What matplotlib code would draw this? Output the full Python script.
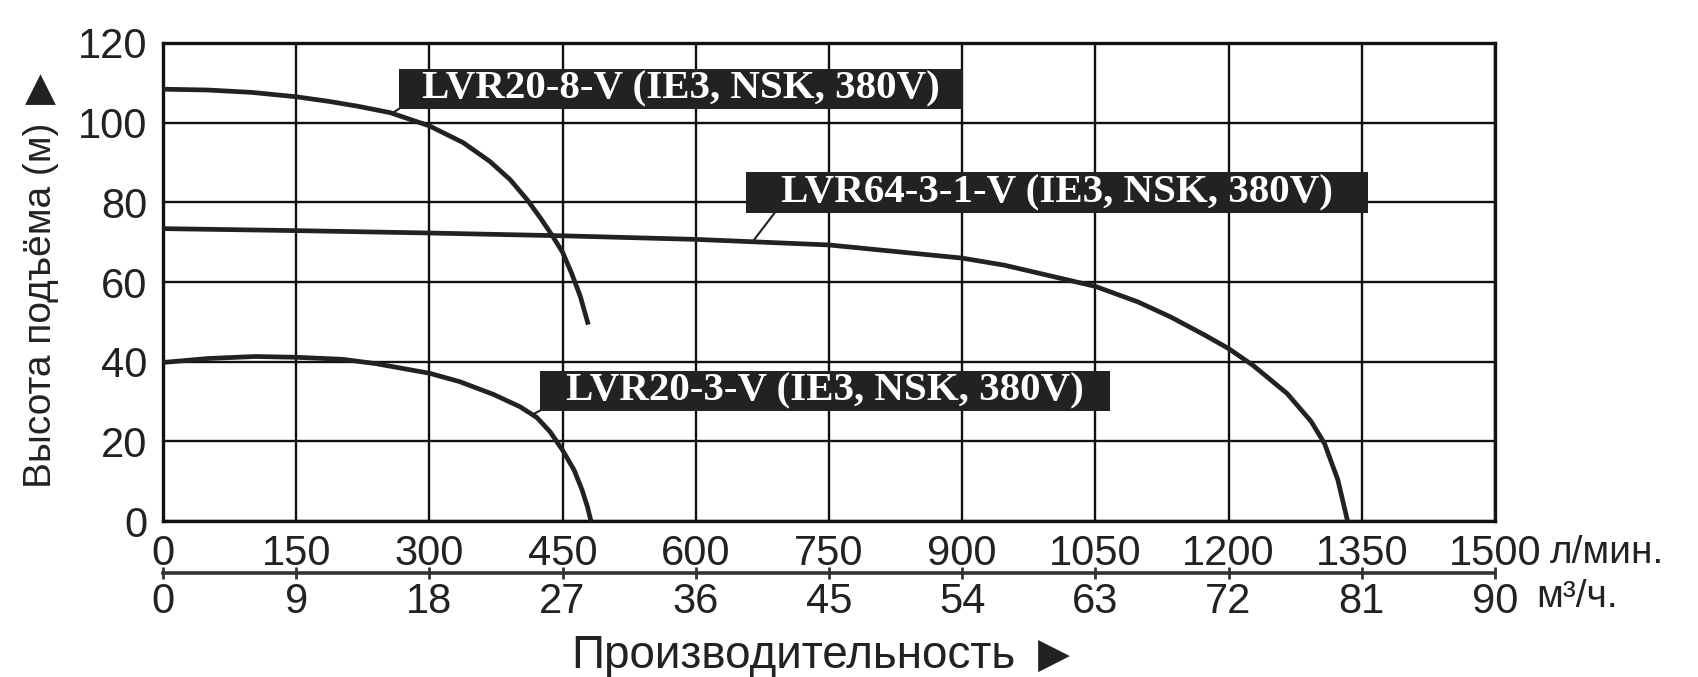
import matplotlib
matplotlib.use("Agg")
import matplotlib.pyplot as plt
from matplotlib.patches import Rectangle
import numpy as np

# pump curves: flow in l/min, head in m
flow_20_8 = [0, 50, 100, 150, 188, 220, 256, 300, 338, 368, 391, 410, 425, 438, 450, 460, 470, 479]
head_20_8 = [108.4, 108.2, 107.6, 106.5, 105.3, 104.1, 102.5, 99.2, 95.0, 90.3, 85.7, 80.7,
             76.1, 71.8, 67.5, 62.3, 56.4, 49.3]

flow_64_3 = [0, 150, 300, 450, 600, 750, 900, 948, 1050, 1098, 1135, 1173, 1200,
             1228, 1266, 1293, 1308, 1323, 1334]
head_64_3 = [73.4, 72.9, 72.3, 71.6, 70.7, 69.3, 66.0, 64.2, 58.9, 55.0, 51.2, 46.7, 43.3,
             39.0, 32.0, 25.0, 19.5, 10.4, 0]

flow_20_3 = [0, 51, 104, 150, 202, 240, 300, 334, 372, 402, 421, 436, 450, 463, 472, 478, 482]
head_20_3 = [39.8, 40.8, 41.3, 41.1, 40.6, 39.5, 37.1, 35.0, 31.8, 28.7, 26.0, 22.4, 17.8,
             12.8, 7.8, 3.6, 0]

names = ["LVR20-8-V (IE3, NSK, 380V)", "LVR64-3-1-V (IE3, NSK, 380V)", "LVR20-3-V (IE3, NSK, 380V)"]

flow_ticks = np.arange(0, 1501, 150)
m3h_ticks = np.arange(0, 91, 9)
head_ticks = np.arange(0, 121, 20)

# label boxes (x0, y0, x1, y1) and leader anchor x on the curve
boxes = [(266, 103.5, 901, 113.5), (657, 77.4, 1357, 87.5), (424.5, 27.7, 1067, 37.7)]
leader_from = [258, 664, 416]
leader_to = [(266, 103.5), (689, 77.4), (424.5, 27.7)]

SANS = ["Liberation Sans", "DejaVu Sans"]
INK = "#222222"

fig = plt.figure(figsize=(16.99, 6.77), dpi=100)
ax = fig.add_axes([0.0959, 0.2304, 0.7840, 0.7061])

ax.set_xlim(0, 1500)
ax.set_ylim(0, 120)
ax.set_xticks(flow_ticks)
ax.set_yticks(head_ticks)
ax.grid(True, color="#111111", linewidth=1.7)
ax.set_axisbelow(True)
for s in ax.spines.values():
    s.set_linewidth(2.4)
    s.set_color("#111111")
ax.tick_params(length=0, labelsize=30, labelcolor=INK)
ax.tick_params(axis="x", pad=9.5)
ax.tick_params(axis="y", pad=11)
for lab in ax.get_xticklabels() + ax.get_yticklabels():
    lab.set_fontfamily(SANS)

curves = [(flow_20_8, head_20_8), (flow_64_3, head_64_3), (flow_20_3, head_20_3)]
for (fx, hy) in curves:
    ax.plot(fx, hy, color=INK, linewidth=3.4, solid_capstyle="butt",
            solid_joinstyle="round", zorder=3)

for (fx, hy), name, box, lx, lt in zip(curves, names, boxes, leader_from, leader_to):
    x0, y0, x1, y1 = box
    ly = np.interp(lx, fx, hy)
    ax.plot([lx, lt[0]], [ly, lt[1]], color=INK, linewidth=1.5, zorder=4)
    ax.add_patch(Rectangle((x0, y0), x1 - x0, y1 - y0, facecolor=INK, edgecolor="none", zorder=5))
    ax.text((x0 + x1) / 2, (y0 + y1) / 2, name, color="white", fontsize=29.5, fontweight="bold",
            family="Liberation Serif", ha="center", va="center", zorder=6)

# second flow scale in m3/h
sec = ax.secondary_xaxis(-0.109, functions=(lambda x: x * 0.06, lambda x: x / 0.06))
sec.set_xticks(m3h_ticks)
sec.spines["bottom"].set_linewidth(2.6)
sec.spines["bottom"].set_color("#333333")
sec.tick_params(direction="inout", length=9, width=2, color="#333333", pad=2,
                labelsize=30, labelcolor=INK)
for lab in sec.get_xticklabels():
    lab.set_fontfamily(SANS)

ax.text(1.041, -0.067, "л/мин.", transform=ax.transAxes, fontsize=28, color=INK,
        family=SANS, ha="left", va="center")
ax.text(1.031, -0.159, "м³/ч.", transform=ax.transAxes, fontsize=28, color=INK,
        family=SANS, ha="left", va="center")

# axis titles with separate, larger arrow glyphs
fig.text(0.336, 0.0133, "Производительность", fontsize=33, color=INK, family=SANS,
         ha="left", va="baseline")
fig.text(0.611, 0.031, "\u25B6", fontsize=30, color=INK, family="DejaVu Sans",
         ha="left", va="center")
fig.text(0.024, 0.279, "Высота подъёма (м)", fontsize=28, color=INK, family=SANS,
         rotation=90, ha="center", va="bottom")
fig.text(0.024, 0.869, "\u25B2", fontsize=29, color=INK, family="DejaVu Sans",
         ha="center", va="center")

fig.savefig("out.png", dpi=100)
